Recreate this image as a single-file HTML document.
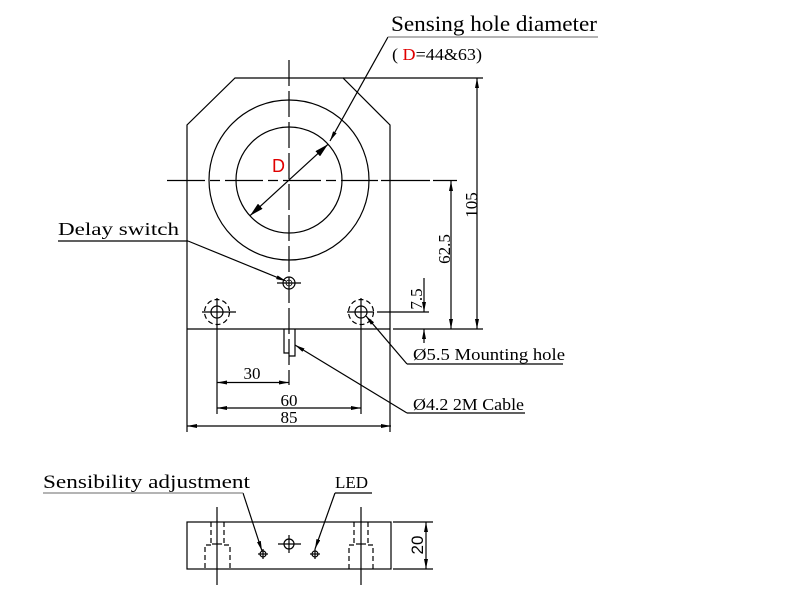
<!DOCTYPE html>
<html><head><meta charset="utf-8"><style>html,body{margin:0;padding:0;background:#fff;}svg{display:block}</style></head>
<body>
<svg width="800" height="600" viewBox="0 0 800 600" xmlns="http://www.w3.org/2000/svg">
<defs>
<marker id="a" markerUnits="userSpaceOnUse" markerWidth="10" markerHeight="4" refX="10" refY="2" orient="auto-start-reverse"><path d="M0,0 L10,2 L0,4z" fill="#000"/></marker>
<marker id="b" markerUnits="userSpaceOnUse" markerWidth="14" markerHeight="7" refX="14" refY="3.5" orient="auto-start-reverse"><path d="M0,0 L14,3.5 L0,7z" fill="#000"/></marker>
</defs>
<g fill="none" stroke="#000" stroke-width="1.2">
<polyline points="187,432 187,125 235,78 343,78 390,125 390,432"/>
<line x1="343" y1="78" x2="483" y2="78"/>
<line x1="187" y1="329" x2="390" y2="329"/>
<line x1="393" y1="329" x2="483" y2="329"/>
<circle cx="289" cy="180" r="80"/>
<circle cx="289" cy="180" r="53"/>
<line x1="167" y1="180.5" x2="378" y2="180.5" stroke-dasharray="38,5,10,5"/>
<line x1="381" y1="180.5" x2="430" y2="180.5"/>
<line x1="433" y1="180.5" x2="457" y2="180.5"/>
<line x1="289" y1="60" x2="289" y2="385" stroke-dasharray="26,5"/>
<line x1="250" y1="215.7" x2="328" y2="144.3" marker-start="url(#b)" marker-end="url(#b)"/>
<line x1="388" y1="37" x2="330" y2="141" marker-end="url(#a)"/>
<circle cx="289" cy="283" r="6"/>
<circle cx="289" cy="283" r="3" stroke-width="0.8"/>
<line x1="277" y1="283" x2="301" y2="283"/>
<line x1="188" y1="241" x2="286" y2="281" marker-end="url(#a)"/>
<line x1="58" y1="241" x2="188" y2="241"/>
<circle cx="217" cy="312" r="6"/>
<circle cx="217" cy="312" r="12.5" stroke-dasharray="5,3"/>
<line x1="202" y1="312" x2="236" y2="312"/>
<line x1="217" y1="298" x2="217" y2="414"/>
<circle cx="361" cy="312" r="6"/>
<circle cx="361" cy="312" r="12.5" stroke-dasharray="5,3"/>
<line x1="347" y1="312" x2="374" y2="312"/>
<line x1="377" y1="312" x2="429" y2="312"/>
<line x1="361" y1="298" x2="361" y2="414"/>
<polyline points="284,329 284,353 289,353"/>
<polyline points="295,329 295,356 289,356"/>
<line x1="477" y1="78" x2="477" y2="329" marker-start="url(#a)" marker-end="url(#a)"/>
<line x1="451" y1="181" x2="451" y2="329" marker-start="url(#a)" marker-end="url(#a)"/>
<line x1="424" y1="278" x2="424" y2="312" marker-end="url(#a)"/>
<line x1="424" y1="343" x2="424" y2="329" marker-end="url(#a)"/>
<line x1="217" y1="382.5" x2="289" y2="382.5" marker-start="url(#a)" marker-end="url(#a)"/>
<line x1="217" y1="408" x2="361" y2="408" marker-start="url(#a)" marker-end="url(#a)"/>
<line x1="187" y1="426" x2="391" y2="426" marker-start="url(#a)" marker-end="url(#a)"/>
<line x1="407" y1="364" x2="366" y2="316" marker-end="url(#a)"/>
<line x1="407" y1="364" x2="563" y2="364"/>
<line x1="407" y1="413" x2="295" y2="345" marker-end="url(#a)"/>
<line x1="407" y1="413" x2="525" y2="413"/>
<rect x="187" y="522" width="204" height="47"/>
<line x1="217" y1="507" x2="217" y2="585"/>
<line x1="361" y1="507" x2="361" y2="585"/>
<g stroke-dasharray="5,3">
<line x1="211" y1="522" x2="211" y2="545"/>
<line x1="224" y1="522" x2="224" y2="545"/>
<polyline points="211,545 205,545 205,569"/>
<polyline points="224,545 230,545 230,569"/>
<line x1="354" y1="522" x2="354" y2="545"/>
<line x1="368" y1="522" x2="368" y2="545"/>
<polyline points="354,545 349,545 349,569"/>
<polyline points="368,545 373,545 373,569"/>
</g>
<line x1="212" y1="544" x2="222" y2="544"/>
<line x1="356" y1="544" x2="366" y2="544"/>
<circle cx="263" cy="554" r="3"/>
<line x1="258" y1="554" x2="268" y2="554"/>
<line x1="263" y1="549" x2="263" y2="559"/>
<circle cx="289" cy="544" r="5"/>
<line x1="278" y1="544" x2="301" y2="544"/>
<line x1="289" y1="535" x2="289" y2="553"/>
<circle cx="315" cy="554" r="3"/>
<line x1="310" y1="554" x2="320" y2="554"/>
<line x1="315" y1="549" x2="315" y2="559"/>
<line x1="393" y1="522" x2="433" y2="522"/>
<line x1="393" y1="569" x2="433" y2="569"/>
<line x1="426" y1="522" x2="426" y2="569" marker-start="url(#a)" marker-end="url(#a)"/>
<line x1="243" y1="493" x2="262" y2="551" marker-end="url(#a)"/>
<line x1="335" y1="493" x2="315" y2="549" marker-end="url(#a)"/>
<line x1="335" y1="493" x2="372" y2="493"/>
</g>
<g stroke="#888" stroke-width="1.3">
<line x1="388" y1="37" x2="598" y2="37"/>
<line x1="43" y1="493" x2="243" y2="493"/>
</g>
<g font-family="'Liberation Serif', serif" fill="#000">
<text x="391" y="31" font-size="22" textLength="206" lengthAdjust="spacingAndGlyphs">Sensing hole diameter</text>
<text x="392" y="60" font-size="17" textLength="90" lengthAdjust="spacingAndGlyphs">( <tspan fill="#e00000">D</tspan>=44&amp;63)</text>
<text x="58" y="235" font-size="18" textLength="121" lengthAdjust="spacingAndGlyphs">Delay switch</text>
<text x="413" y="360" font-size="17" textLength="152" lengthAdjust="spacingAndGlyphs">Ø5.5  Mounting hole</text>
<text x="413" y="410" font-size="17" textLength="111" lengthAdjust="spacingAndGlyphs">Ø4.2 2M Cable</text>
<text x="43" y="488" font-size="19" textLength="207" lengthAdjust="spacingAndGlyphs">Sensibility adjustment</text>
<text x="335" y="488" font-size="17" textLength="33" lengthAdjust="spacingAndGlyphs">LED</text>
<text x="252" y="379" font-size="17" text-anchor="middle">30</text>
<text x="289" y="406" font-size="17" text-anchor="middle">60</text>
<text x="289" y="423" font-size="17" text-anchor="middle">85</text>
<text transform="translate(477,205) rotate(-90)" font-size="17" text-anchor="middle">105</text>
<text transform="translate(450,249) rotate(-90)" font-size="17" text-anchor="middle">62.5</text>
<text transform="translate(422,299) rotate(-90)" font-size="17" text-anchor="middle">7.5</text>
</g>
<text transform="translate(423,545) rotate(-90)" font-family="'Liberation Sans', sans-serif" font-size="17" text-anchor="middle">20</text>
<text x="272" y="172" font-family="'Liberation Sans', sans-serif" font-size="18" fill="#e00000">D</text>
</svg>
</body></html>
